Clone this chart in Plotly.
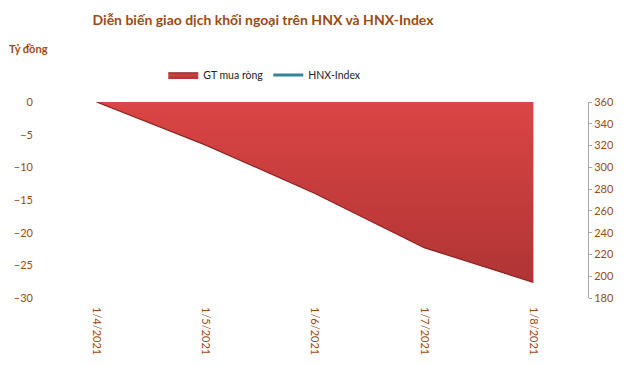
import plotly.graph_objects as go

dates = ["1/4/2021", "1/5/2021", "1/6/2021", "1/7/2021", "1/8/2021"]
gt_mua_rong = [0.0, -6.6, -14.0, -22.3, -27.6]
hnx_index = [None, None, None, None, None]  # series not drawn in the reference

BROWN = "#9c4a12"
FONT = "Lato"

fig = go.Figure()
fig.add_trace(go.Scatter(
    x=dates, y=gt_mua_rong, name="GT mua ròng", mode="lines",
    fill="tozeroy",
    line=dict(color="#8e2222", width=1.2),
    fillgradient=dict(type="vertical",
                      colorscale=[[0, "#b03434"], [1, "#db4545"]]),
    fillcolor="#d13c3c",
))
fig.add_trace(go.Scatter(
    x=dates, y=hnx_index, name="HNX-Index", mode="lines",
    line=dict(color="#31859c", width=3), yaxis="y2",
))

fig.update_layout(
    width=640, height=365,
    margin=dict(l=42, r=52, t=102, b=67),
    paper_bgcolor="white", plot_bgcolor="white",
    font=dict(family=FONT, size=11, color=BROWN),
    title=dict(text="<b>Diễn biến giao dịch khối ngoại trên HNX và HNX-Index</b>",
               x=0.411, xanchor="center", xref="container",
               y=1 - 20 / 365, yanchor="middle", yref="container",
               font=dict(family=FONT, size=14, color=BROWN)),
    showlegend=True,
    legend=dict(orientation="h", x=0.408, xanchor="center", y=1.138,
                yanchor="middle", font=dict(color="#222222", size=10.5),
                itemwidth=30, traceorder="normal"),
    xaxis=dict(type="category", range=[-0.5, 4.5], tickangle=90,
               showgrid=False, showline=False, ticks="", zeroline=False,
               ticklabelstandoff=8, automargin=False,
               tickfont=dict(color=BROWN, size=11)),
    yaxis=dict(range=[-30, 0], dtick=5, showgrid=False, showline=False,
               zeroline=False, ticks="", ticklabelstandoff=8, automargin=False,
               tickfont=dict(color=BROWN, size=11)),
    yaxis2=dict(range=[180, 360], dtick=20, overlaying="y", side="right",
                showgrid=False, showline=True, linecolor="#a6a6a6",
                linewidth=1, ticks="outside", ticklen=3, tickcolor="#a6a6a6",
                zeroline=False, automargin=False,
                tickfont=dict(color=BROWN, size=11)),
    annotations=[dict(text="<b>Tỷ đồng</b>", xref="paper", yref="paper",
                      x=(7 - 42) / 546, y=1 + (102 - 49) / 196,
                      xanchor="left", yanchor="middle", showarrow=False,
                      font=dict(family=FONT, size=11, color=BROWN))],
)

fig.write_html("out.html")
